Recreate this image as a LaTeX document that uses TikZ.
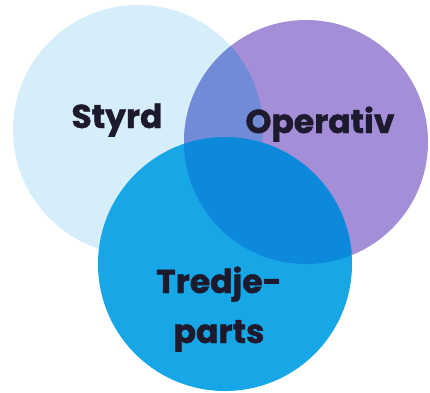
\documentclass[tikz,border=0pt]{standalone}
\usepackage{fontspec}
\setsansfont{Poppins}[BoldFeatures={FakeBold=1.2}]
\usepackage{tikz}

\definecolor{styrdblue}{HTML}{D6EEFA}
\definecolor{operlilac}{HTML}{A58ED8}
\definecolor{tredjeblue}{HTML}{17A7E7}
\definecolor{styrdoper}{HTML}{718BD7}
\definecolor{opertredje}{HTML}{0C89DA}
\definecolor{labelink}{HTML}{1C1A2C}

\begin{document}
\begin{tikzpicture}[x=1pt,y=-1pt,
    label text/.style={font=\sffamily\bfseries\fontsize{33}{33}\selectfont,
      text=labelink,inner sep=0pt,anchor=base}]
    \useasboundingbox (0,0) rectangle (430,392);
    % circles
    \fill[styrdblue] (138,130) circle (125);
    \fill[operlilac] (306,142) circle (122);
    \fill[tredjeblue] (225,264) circle (127);
    % overlaps
    \begin{scope}
      \clip (138,130) circle (125);
      \fill[styrdoper] (306,142) circle (122);
    \end{scope}
    \begin{scope}
      \clip (306,142) circle (122);
      \fill[opertredje] (225,264) circle (127);
    \end{scope}
    % labels
    \node[label text] (styrd) at (117,128) {Styrd};
    \node[label text] (operativ) at (320,133) {Operativ};
    \node[label text] (tredje) at (219,293) {Tredje-};
    \node[label text] (parts) at (219,343) {parts};
  \end{tikzpicture}
\end{document}
